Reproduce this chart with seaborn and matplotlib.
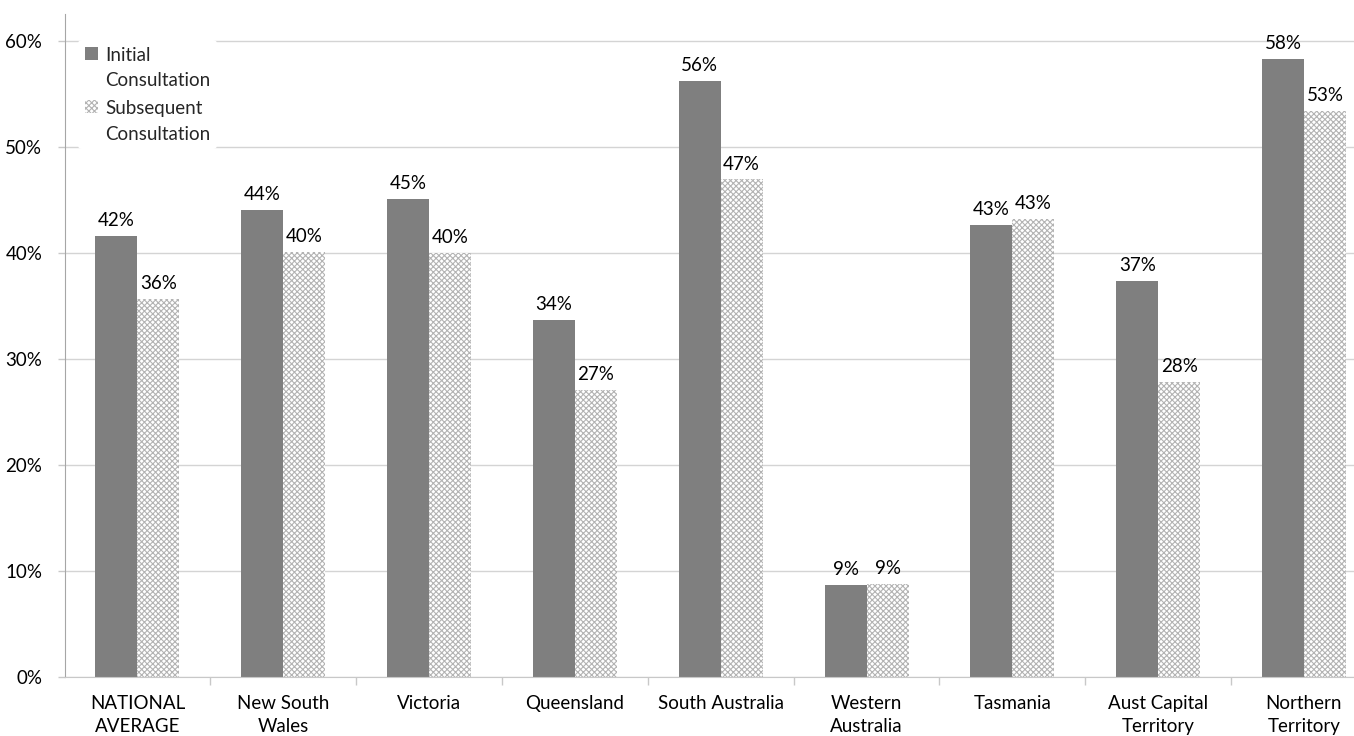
import matplotlib.pyplot as plt
import pandas as pd
import seaborn as sns
from matplotlib.legend_handler import HandlerPatch
from matplotlib.patches import Rectangle
from matplotlib.ticker import FixedLocator, FuncFormatter

# values (percent)
regions = ['NATIONAL\nAVERAGE', 'New South\nWales', 'Victoria', 'Queensland',
           'South Australia', 'Western\nAustralia', 'Tasmania',
           'Aust Capital\nTerritory', 'Northern\nTerritory']
initial = [41.6, 44.0, 45.1, 33.7, 56.2, 8.7, 42.6, 37.3, 58.3]
subsequent = [35.6, 40.1, 40.0, 27.1, 46.9, 8.8, 43.2, 27.8, 53.4]
series = ['Initial\nConsultation', 'Subsequent\nConsultation']
y_ticks = [0, 10, 20, 30, 40, 50, 60]

df = pd.DataFrame({
    'region': regions * 2,
    'pct': initial + subsequent,
    'series': [series[0]] * len(regions) + [series[1]] * len(regions),
})

sns.set_style('white')
plt.rcParams['font.family'] = ['Lato', 'DejaVu Sans']
plt.rcParams['hatch.linewidth'] = 0.8
FS = 13.5

fig = plt.figure(figsize=(13.54, 7.36), dpi=100)
ax = fig.add_axes([64.5 / 1354, 59 / 736, 1289.5 / 1354, 663 / 736])

sns.barplot(data=df, x='region', y='pct', hue='series', order=regions,
            hue_order=series, palette=['#7f7f7f', '#ffffff'], saturation=1,
            width=0.576, errorbar=None, legend=False, ax=ax)

# solid grey for the first series, fine cross-hatch for the second
for p in ax.containers[0]:
    p.set_facecolor('#7f7f7f')
    p.set_edgecolor('#7f7f7f')
    p.set_linewidth(0)
for p in ax.containers[1]:
    p.set_facecolor('white')
    p.set_edgecolor('#b3b3b3')
    p.set_hatch('xxxxxx')
    p.set_linewidth(0)

for cont in ax.containers:
    ax.bar_label(cont, labels=[f'{v:.0f}%' for v in cont.datavalues],
                 padding=5, fontsize=FS, color='black')

ax.set_ylim(0, 62.5)
ax.set_xlim(-0.5, 8.343)
ax.yaxis.set_major_locator(FixedLocator(y_ticks))
ax.yaxis.set_major_formatter(FuncFormatter(lambda v, _: f'{v:.0f}%'))
ax.grid(axis='y', color='#d4d4d4', linewidth=1)
ax.set_axisbelow(True)
ax.set_xlabel('')
ax.set_ylabel('')

for side in ['top', 'right']:
    ax.spines[side].set_visible(False)
ax.spines['left'].set_color('#a6a6a6')
ax.spines['bottom'].set_color('#c8c8c8')

ax.tick_params(axis='y', which='major', length=5, width=1, color='#c8c8c8',
               pad=11, labelsize=FS, labelcolor='black', left=True)
ax.tick_params(axis='x', which='major', length=0, pad=13, labelsize=FS,
               labelcolor='black')
for lbl in ax.get_xticklabels():
    lbl.set_linespacing(1.45)
ax.xaxis.set_minor_locator(FixedLocator([i + 0.5 for i in range(len(regions) - 1)]))
ax.tick_params(axis='x', which='minor', length=6, width=1, color='#c8c8c8',
               bottom=True)


# legend swatch sits on the first text line, like the original
def top_patch(legend, orig_handle, xdescent, ydescent, width, height, fontsize):
    return Rectangle((-xdescent, -ydescent + 0.8 * fontsize), width, height)


handles = [ax.containers[0][0], ax.containers[1][0]]
leg = ax.legend(handles, series, loc='upper left',
                bbox_to_anchor=(78 / 1354, 1 - 40 / 736),
                bbox_transform=fig.transFigure, fontsize=FS, frameon=True,
                facecolor='white', edgecolor='none', framealpha=1,
                handlelength=0.7, handleheight=0.7, handletextpad=0.4,
                borderpad=0.35, labelspacing=0.6, borderaxespad=0,
                handler_map={Rectangle: HandlerPatch(patch_func=top_patch)})
leg.get_frame().set_linewidth(0)
for t in leg.get_texts():
    t.set_linespacing(1.6)

fig.savefig('out.png', dpi=100)
